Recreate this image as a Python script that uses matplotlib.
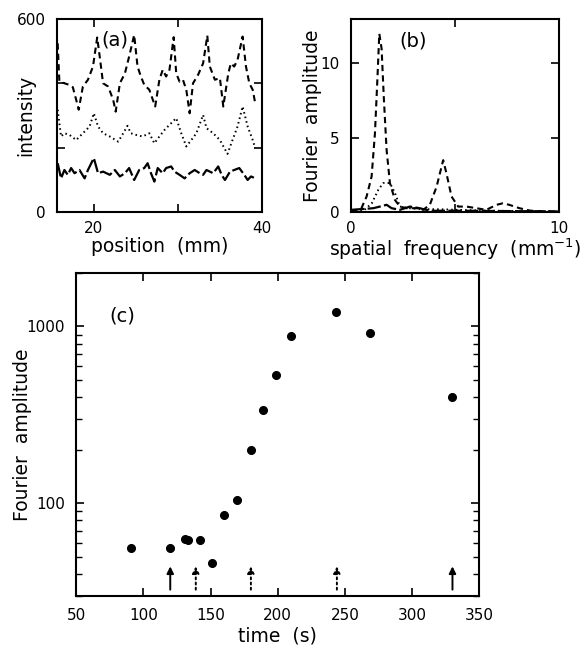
# Script to redraw the three panel figure: profiles (a), spectra (b) and growth of the Fourier amplitude (c)

import numpy as np
import matplotlib
matplotlib.use('Agg')
import matplotlib.pyplot as plt
from matplotlib.ticker import LogLocator, NullFormatter, FixedLocator

plt.rcParams['font.family'] = ['DejaVu Sans']

# Panel (a) : intensity profiles
pos_dash = [15.7, 15.9, 16.5, 17.1, 17.5, 17.9, 18.2, 18.7, 19.3, 19.9, 20.4, 20.7, 21.1, 21.7, 22.3, 22.6,
            23.1, 23.7, 24.2, 24.8, 25.2, 25.6, 26.0, 26.6, 27.3, 27.8, 28.2, 28.6, 29.0, 29.5, 29.8, 30.2,
            30.6, 31.0, 31.4, 31.8, 32.4, 33.0, 33.5, 33.8, 34.4, 35.0, 35.4, 36.0, 36.3, 36.7, 37.1, 37.7,
            38.1, 38.5, 38.9, 39.2]
int_dash = [524, 405, 400, 395, 388, 349, 318, 390, 411, 452, 542, 483, 400, 390, 349, 312,
            400, 431, 483, 550, 452, 421, 395, 380, 328, 411, 442, 421, 442, 543, 431, 405,
            411, 380, 307, 400, 426, 462, 548, 452, 411, 416, 328, 431, 462, 452, 473, 545,
            452, 400, 380, 338]

pos_dot = [15.7, 16.1, 16.5, 17.1, 17.9, 18.7, 19.5, 20.0, 20.5, 21.1, 21.9, 22.9, 23.5, 24.0, 24.4, 25.0,
           25.8, 26.6, 27.2, 27.8, 28.4, 29.0, 29.8, 30.4, 31.0, 31.6, 32.2, 33.0, 33.4, 34.2, 35.0, 35.9,
           36.5, 37.1, 37.7, 38.3, 38.9, 39.2]
int_dot = [318, 235, 245, 240, 224, 245, 266, 307, 266, 245, 235, 219, 245, 268, 245, 240,
           235, 245, 214, 235, 255, 271, 292, 245, 204, 224, 245, 302, 261, 245, 224, 181,
           224, 266, 328, 266, 224, 199]

pos_long = [15.7, 16.1, 16.5, 16.9, 17.3, 17.7, 18.3, 18.9, 19.3, 20.0, 20.5, 21.1, 21.9, 22.5, 23.1, 23.7,
            24.2, 24.8, 25.4, 26.0, 26.4, 26.8, 27.2, 27.6, 28.2, 28.6, 29.2, 29.6, 30.2, 30.8, 31.4, 32.0,
            32.6, 33.0, 33.4, 34.2, 34.8, 35.2, 35.6, 36.2, 36.7, 37.3, 37.9, 38.3, 38.7, 39.2]
int_long = [152, 105, 131, 116, 137, 121, 131, 105, 131, 168, 121, 126, 116, 131, 111, 121,
            137, 100, 131, 137, 152, 121, 95, 137, 121, 137, 142, 126, 116, 105, 121, 131,
            121, 116, 131, 121, 142, 116, 100, 126, 131, 137, 116, 100, 111, 105]

# Panel (b) : Fourier spectra
freq_dash = [0, 0.27, 0.5, 0.75, 0.99, 1.15, 1.26, 1.36, 1.47, 1.58, 1.71, 1.87, 2.11, 2.35, 2.67, 3.15,
             3.47, 3.79, 4.11, 4.43, 4.59, 4.83, 5.15, 5.55, 6.03, 6.5, 7.0, 7.3, 7.6, 8.1, 8.6, 9.2, 10]
amp_dash = [0.05, 0.16, 0.27, 1.06, 2.4, 5.3, 8.7, 12.0, 11.0, 7.6, 4.2, 1.96, 0.83, 0.38, 0.27, 0.27,
            0.16, 0.5, 1.7, 3.5, 2.6, 1.06, 0.38, 0.38, 0.27, 0.16, 0.5, 0.6, 0.5, 0.27, 0.11, 0.05, 0.05]

freq_dot = [0, 0.6, 1.0, 1.31, 1.55, 1.87, 2.11, 2.35, 2.8, 3.47, 4.27, 5.07, 6.7, 10]
amp_dot = [0.05, 0.1, 0.6, 1.5, 1.96, 1.96, 1.3, 0.38, 0.27, 0.2, 0.2, 0.16, 0.1, 0.05]

freq_long = [0, 0.6, 1.07, 1.39, 1.71, 1.95, 2.35, 2.83, 3.3, 3.79, 5.07, 10]
amp_long = [0.16, 0.22, 0.27, 0.38, 0.5, 0.27, 0.16, 0.38, 0.27, 0.1, 0.1, 0.05]

# Panel (c) : Fourier amplitude versus time
time_s = [91, 120, 131, 133, 142, 151, 160, 170, 180, 189, 199, 210, 243, 269, 330]
amp_c = [56, 56, 63, 62, 62, 46, 86, 105, 199, 336, 533, 878, 1210, 917, 400]

# arrows (times of the profiles)
arrow_t = [120, 139, 180, 244, 330]
arrow_style = ['solid', 'dotted', 'dotted', 'dotted', 'solid']

LABEL_FS = 13.5
TICK_FS = 11


def style_axes(ax):
    ax.tick_params(which='both', direction='in', top=True, right=True, labelsize=TICK_FS)
    ax.tick_params(which='major', length=6, width=1.2)
    ax.tick_params(which='minor', length=4, width=1.0)
    for s in ax.spines.values():
        s.set_linewidth(1.5)


fig = plt.figure(figsize=(5.86, 6.49), dpi=100)

# (a)
ax_a = fig.add_axes([0.097, 0.673, 0.350, 0.298])
ax_a.plot(pos_dash, int_dash, color='k', lw=1.5, ls=(0, (3.0, 2.0)))
ax_a.plot(pos_dot, int_dot, color='k', lw=1.4, ls=(0, (0.8, 1.6)))
ax_a.plot(pos_long, int_long, color='k', lw=1.6, ls=(0, (6, 1.5)))
ax_a.set_xlim(15.6, 40)
ax_a.set_ylim(0, 600)
ax_a.set_xticks([20, 30, 40])
ax_a.set_xticklabels(['20', '', '40'])
ax_a.set_yticks([0, 200, 400, 600])
ax_a.set_yticklabels(['0', '', '', '600'])
ax_a.set_xlabel('position  (mm)', fontsize=LABEL_FS)
ax_a.set_ylabel('intensity', fontsize=LABEL_FS)
ax_a.xaxis.set_label_coords(0.5, -0.13)
ax_a.yaxis.set_label_coords(-0.105, 0.5)
ax_a.text(22.5, 535, '(a)', fontsize=14, ha='center', va='center')
style_axes(ax_a)
ax_a.tick_params(axis='x', pad=6)
ax_a.tick_params(axis='y', pad=8)

# (b)
ax_b = fig.add_axes([0.599, 0.673, 0.355, 0.298])
ax_b.plot(freq_dash, amp_dash, color='k', lw=1.5, ls=(0, (3.0, 2.0)))
ax_b.plot(freq_dot, amp_dot, color='k', lw=1.4, ls=(0, (0.8, 1.6)))
ax_b.plot(freq_long, amp_long, color='k', lw=1.6, ls=(0, (6, 1.5)))
ax_b.set_xlim(0, 10)
ax_b.set_ylim(0, 13)
ax_b.set_xticks([0, 5, 10])
ax_b.set_xticklabels(['0', '', '10'])
ax_b.set_yticks([0, 5, 10])
ax_b.set_xlabel('spatial  frequency  (mm$^{-1}$)', fontsize=LABEL_FS)
ax_b.set_ylabel('Fourier  amplitude', fontsize=LABEL_FS)
ax_b.xaxis.set_label_coords(0.5, -0.125)
ax_b.yaxis.set_label_coords(-0.14, 0.5)
ax_b.text(3.0, 11.5, '(b)', fontsize=14, ha='center', va='center')
style_axes(ax_b)
ax_b.tick_params(axis='x', pad=6)
ax_b.tick_params(axis='y', pad=8)

# (c)
ax_c = fig.add_axes([0.130, 0.082, 0.688, 0.497])
ax_c.plot(time_s, amp_c, 'o', color='k', ms=5.5)
for t, st in zip(arrow_t, arrow_style):
    ax_c.annotate('', xy=(t, 44), xytext=(t, 32.5),
                  arrowprops=dict(arrowstyle='-|>', lw=1.4, ls=st, color='k',
                                  mutation_scale=10, shrinkA=0, shrinkB=0))
ax_c.set_yscale('log')
ax_c.set_xlim(50, 350)
ax_c.set_ylim(30, 2000)
ax_c.set_xticks([50, 100, 150, 200, 250, 300, 350])
ax_c.yaxis.set_major_locator(FixedLocator([100, 1000]))
ax_c.set_yticklabels(['100', '1000'])
ax_c.yaxis.set_minor_locator(LogLocator(base=10, subs=np.arange(2, 10)))
ax_c.yaxis.set_minor_formatter(NullFormatter())
ax_c.set_xlabel('time  (s)', fontsize=LABEL_FS)
ax_c.set_ylabel('Fourier  amplitude', fontsize=LABEL_FS)
ax_c.xaxis.set_label_coords(0.5, -0.095)
ax_c.yaxis.set_label_coords(-0.11, 0.5)
ax_c.text(84.5, 1140, '(c)', fontsize=14, ha='center', va='center')
style_axes(ax_c)
ax_c.tick_params(axis='x', pad=9)
ax_c.tick_params(axis='y', pad=8)

plt.savefig('out.png', dpi=100)
